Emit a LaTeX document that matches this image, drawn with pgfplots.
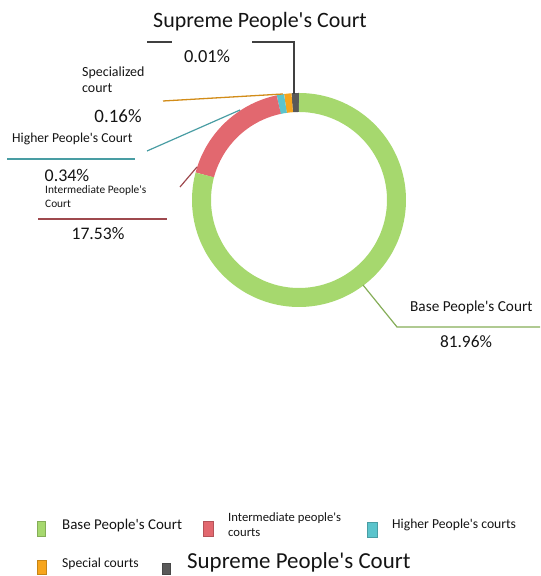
\documentclass[border=0pt]{standalone}
\usepackage{pgfplots}
\pgfplotsset{compat=1.18}
\usepackage{fontspec}
\setmainfont{Carlito}[Ligatures=TeXOff]
\definecolor{cBase}{HTML}{A6D86E}
\definecolor{cInt}{HTML}{E2686F}
\definecolor{cHigh}{HTML}{5BC4CC}
\definecolor{cSpec}{HTML}{F7A51C}
\definecolor{cSup}{HTML}{595959}
\definecolor{txt}{HTML}{141414}
\newcommand{\fs}[1]{\fontsize{#1}{#1}\selectfont}
\begin{document}
\begin{tikzpicture}
% shares in percent
\pgfmathsetmacro{\vBase}{81.96}
\pgfmathsetmacro{\vInt}{17.53}
\pgfmathsetmacro{\vHigh}{0.34}
\pgfmathsetmacro{\vSpec}{0.16}
\pgfmathsetmacro{\vSup}{0.01}
% angles (tiny shares drawn at a minimum visible width)
\pgfmathsetmacro{\aA}{90}
\pgfmathsetmacro{\aB}{\aA+max(\vSup*3.6,4)}
\pgfmathsetmacro{\aC}{\aB+max(\vSpec*3.6,4)}
\pgfmathsetmacro{\aD}{\aC+max(\vHigh*3.6,4)}
\pgfmathsetmacro{\aE}{\aD+\vInt*3.6}
\begin{axis}[width=540bp,height=576bp,scale only axis,hide axis,
  xmin=0,xmax=540,ymin=0,ymax=576,clip=false]
\path (axis cs:0,0) rectangle (axis cs:540,576);
\addplot[cSup, line width=19bp, domain=\aA:\aB, samples=8] ({299+97.5*cos(x)},{376+97.5*sin(x)});
\addplot[cSpec, line width=19bp, domain=\aB:\aC, samples=8] ({299+97.5*cos(x)},{376+97.5*sin(x)});
\addplot[cHigh, line width=19bp, domain=\aC:\aD, samples=8] ({299+97.5*cos(x)},{376+97.5*sin(x)});
\addplot[cInt, line width=19bp, domain=\aD:\aE, samples=60] ({299+97.5*cos(x)},{376+97.5*sin(x)});
\addplot[cBase, line width=19bp, domain=\aE:450, samples=200] ({299+97.5*cos(x)},{376+97.5*sin(x)});
% leader lines
\draw[color=black!75, line width=1.3bp] (axis cs:294,482) -- (axis cs:294,534) -- (axis cs:252,534);
\draw[color=black!75, line width=1.3bp] (axis cs:147,534) -- (axis cs:172,534);
\draw[color=cSpec!85!black, line width=1.3bp] (axis cs:163,475) -- (axis cs:283,482);
\draw[color=cHigh!80!black, line width=1.2bp] (axis cs:7,417) -- (axis cs:135,417);
\draw[color=cHigh!80!black, line width=1.2bp] (axis cs:147,425) -- (axis cs:240,466);
\draw[color=cInt!70!black, line width=1.2bp] (axis cs:38,357) -- (axis cs:167,357);
\draw[color=cInt!70!black, line width=1.2bp] (axis cs:180,389) -- (axis cs:197,409);
\draw[color=cBase!80!black, line width=1.2bp] (axis cs:363,291) -- (axis cs:397,249) -- (axis cs:540,249);
% labels
\tikzset{lab/.style={inner sep=0pt, text=txt}}
\node[lab, anchor=base west, font=\fs{22}] at (axis cs:153,548) {Supreme People's Court};
\node[lab, anchor=base, font=\fs{18.5}] at (axis cs:207,513) {\vSup\%};
\node[lab, anchor=base west, font=\fs{14}] at (axis cs:82,499) {Specialized};
\node[lab, anchor=base west, font=\fs{14}] at (axis cs:82,483) {court};
\node[lab, anchor=base, font=\fs{19}] at (axis cs:118,453) {\vSpec\%};
\node[lab, anchor=base west, font=\fs{13.7}] at (axis cs:12,433) {Higher People's Court};
\node[lab, anchor=base, font=\fs{18}] at (axis cs:67,394) {\vHigh\%};
\node[lab, anchor=base west, font=\fs{11.4}] at (axis cs:45,382) {Intermediate People's};
\node[lab, anchor=base west, font=\fs{11.4}] at (axis cs:45,368) {Court};
\node[lab, anchor=base, font=\fs{17.7}] at (axis cs:98,336) {\vInt\%};
\node[lab, anchor=base west, font=\fs{15.3}] at (axis cs:410,264) {Base People's Court};
\node[lab, anchor=base, font=\fs{17.4}] at (axis cs:466,228) {\vBase\%};
% legend
\fill[cBase, draw=cBase!80!black, line width=0.4bp] (axis cs:37,40) rectangle (axis cs:45,55);
\node[lab, anchor=base west, font=\fs{15}] at (axis cs:62,46) {Base People's Court};
\fill[cInt, draw=cInt!80!black, line width=0.4bp] (axis cs:203,40) rectangle (axis cs:213,55);
\node[lab, anchor=base west, font=\fs{12.7}] at (axis cs:228,54) {Intermediate people's};
\node[lab, anchor=base west, font=\fs{12.7}] at (axis cs:228,39) {courts};
\fill[cHigh, draw=cHigh!80!black, line width=0.4bp] (axis cs:367,39) rectangle (axis cs:377,54);
\node[lab, anchor=base west, font=\fs{13.7}] at (axis cs:392,47) {Higher People's courts};
\fill[cSpec, draw=cSpec!80!black, line width=0.4bp] (axis cs:37,2) rectangle (axis cs:46,16);
\node[lab, anchor=base west, font=\fs{13.7}] at (axis cs:62,9) {Special courts};
\fill[cSup, draw=cSup!80!black, line width=0.4bp] (axis cs:162,2) rectangle (axis cs:170,13);
\node[lab, anchor=base west, font=\fs{23}] at (axis cs:187,8) {Supreme People's Court};
\end{axis}
\end{tikzpicture}
\end{document}
